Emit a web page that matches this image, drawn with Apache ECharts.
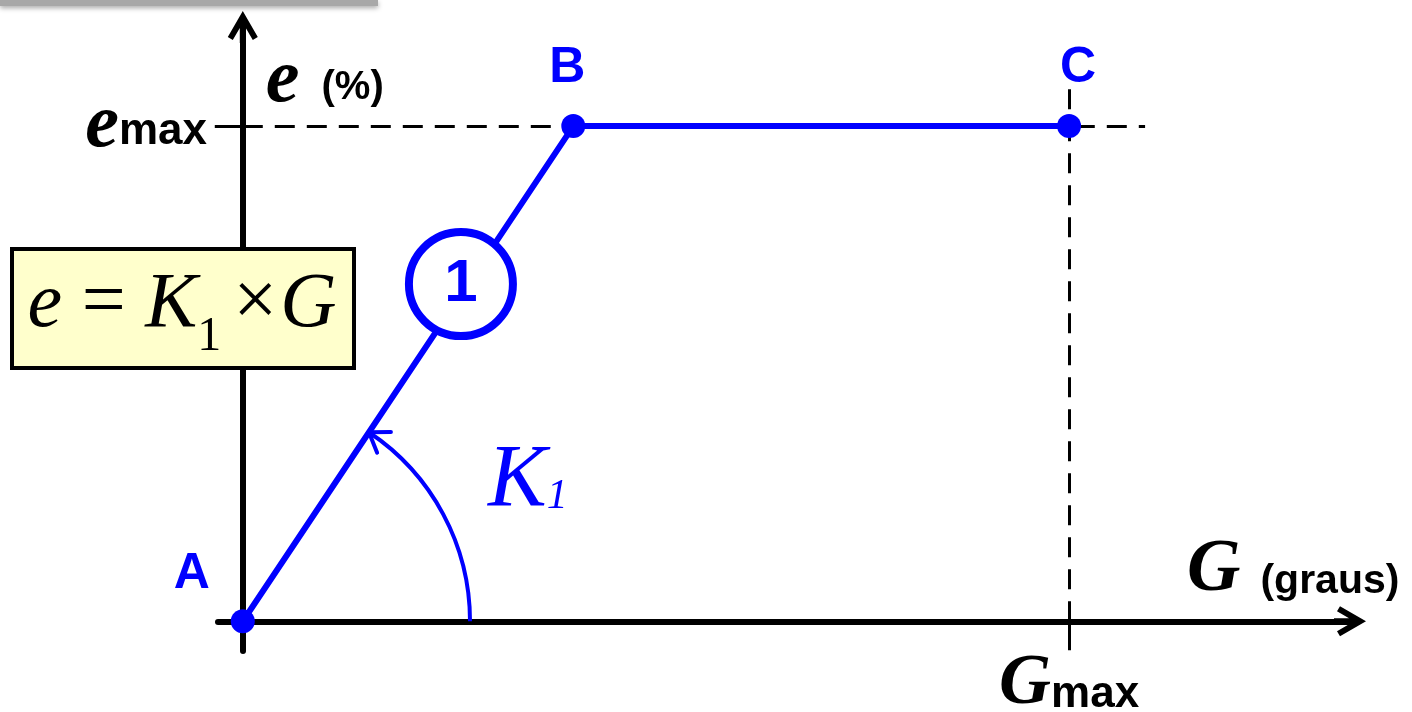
<!DOCTYPE html>
<html>
<head>
<meta charset="utf-8">
<script src="https://cdn.jsdelivr.net/npm/echarts@6/dist/echarts.min.js"></script>
<style>
html, body { margin: 0; padding: 0; background: #fff; }
#chart { width: 1412px; height: 712px; }
</style>
</head>
<body>
<div id="chart"></div>
<script>
const chart = echarts.init(document.getElementById("chart"));

const BLUE = "#0000ff";
const SERIF = "'Liberation Serif', 'Times New Roman', serif";
const SANS = "'Liberation Sans', Arial, sans-serif";
// open chevron with a stem, pointing up (rotated by the axis)
const ARROW = "path://M15 0 L30 26 L25 29 L18 17 L18 32 L12 32 L12 17 L5 29 L0 26 Z";

// the three points of the curve
const pointNames = ["A", "B", "C"];
const gValues = [0, 4, 10];
const eValues = [0, 10, 10];

const G_MAX = 10;
const E_MAX = 10;
const badge = [2.64, 6.81];      // the "1" circle sitting on A-B
const dashEnd = [10.92, 10.75];  // where the dashed guides stop (G, e)
const arcRadius = 2.75;          // K1 angle arc, in G units

const labelOffset = { A: [-51, -47], B: [-6, -58], C: [9, -58] };

const points = pointNames.map((n, i) => ({
	name: n,
	value: [gValues[i], eValues[i]],
	label: { offset: labelOffset[n] }
}));

option = {
	animation: false,
	grid: {
		left: 218,
		top: 27,
		width: 1132,
		height: 624,
		outerBoundsMode: "none"
	},
	xAxis: {
		type: "value",
		min: -0.3,
		max: 13.4,
		splitLine: { show: false },
		axisLine: {
			onZero: true,
			symbol: ["none", ARROW],
			symbolSize: [30, 32],
			lineStyle: { color: "#000", width: 6 }
		},
		axisTick: {
			show: true,
			customValues: [G_MAX],
			length: 29,
			lineStyle: { color: "#000", width: 3 }
		},
		axisLabel: {
			customValues: [G_MAX],
			margin: -3,
			formatter: () => "{g|G}{m|max}",
			rich: {
				g: { fontFamily: SERIF, fontStyle: "italic", fontWeight: "bold", fontSize: 72, color: "#000" },
				m: { fontFamily: SANS, fontWeight: "bold", fontSize: 44, color: "#000", padding: [22, 0, 0, 0] }
			}
		},
		name: "{g|G}{u|(graus)}",
		nameLocation: "end",
		nameGap: -163,
		nameTextStyle: {
			align: "left",
			verticalAlign: "middle",
			padding: [0, 0, 100, 0],
			rich: {
				g: { fontFamily: SERIF, fontStyle: "italic", fontWeight: "bold", fontSize: 74, color: "#000" },
				u: { fontFamily: SANS, fontWeight: "bold", fontSize: 41, color: "#000", padding: [20, 0, 0, 20] }
			}
		}
	},
	yAxis: {
		type: "value",
		min: -0.6,
		max: 12,
		splitLine: { show: false },
		axisLine: {
			onZero: true,
			symbol: ["none", ARROW],
			symbolSize: [30, 32],
			lineStyle: { color: "#000", width: 6 }
		},
		axisTick: {
			show: true,
			customValues: [E_MAX],
			length: 28,
			lineStyle: { color: "#000", width: 3 }
		},
		axisLabel: {
			customValues: [E_MAX],
			margin: 11,
			formatter: () => "{e|e}{m|max}",
			rich: {
				e: { fontFamily: SERIF, fontStyle: "italic", fontWeight: "bold", fontSize: 76, color: "#000" },
				m: { fontFamily: SANS, fontWeight: "bold", fontSize: 44, color: "#000", padding: [12, 0, 0, 0] }
			}
		},
		name: "{e|e}{u|(%)}",
		nameLocation: "end",
		nameGap: -54,
		nameTextStyle: {
			align: "left",
			verticalAlign: "middle",
			padding: [0, 0, 0, 23],
			rich: {
				e: { fontFamily: SERIF, fontStyle: "italic", fontWeight: "bold", fontSize: 76, color: "#000" },
				u: { fontFamily: SANS, fontWeight: "bold", fontSize: 40, color: "#000", padding: [14, 0, 0, 22] }
			}
		}
	},
	series: [{
		name: "guias",
		type: "line",
		data: [],
		z: 1,
		markLine: {
			silent: true,
			z: 1,
			symbol: "none",
			label: { show: false },
			lineStyle: { color: "#000", width: 3, type: [20, 12] },
			data: [
				[{ coord: [0, E_MAX] }, { coord: [dashEnd[0], E_MAX] }],
				[{ coord: [G_MAX, 0] }, { coord: [G_MAX, dashEnd[1]] }]
			]
		}
	}, {
		name: "e",
		type: "line",
		data: points,
		z: 3,
		symbol: "circle",
		symbolSize: 24,
		lineStyle: { color: BLUE, width: 6 },
		itemStyle: { color: BLUE },
		emphasis: { disabled: true },
		label: {
			show: true,
			position: "inside",
			formatter: "{b}",
			fontFamily: SANS,
			fontWeight: "bold",
			fontSize: 50,
			color: BLUE
		}
	}, {
		name: "1",
		type: "scatter",
		data: [badge],
		z: 4,
		symbolSize: 104,
		itemStyle: { color: "#fff", opacity: 1, borderColor: BLUE, borderWidth: 8 },
		emphasis: { disabled: true },
		label: {
			show: true,
			position: "inside",
			formatter: "1",
			fontFamily: SANS,
			fontWeight: "bold",
			fontSize: 60,
			color: BLUE
		}
	}]
};

chart.setOption(option);

// angle arc K1 and the text boxes, placed from the axis scales
const o = chart.convertToPixel({ gridIndex: 0 }, [0, 0]);
const r = chart.convertToPixel({ gridIndex: 0 }, [arcRadius, 0])[0] - o[0];
const b = chart.convertToPixel({ gridIndex: 0 }, [gValues[1], eValues[1]]);
const ang = Math.atan2(o[1] - b[1], b[0] - o[0]);
const tip = [o[0] + r * Math.cos(ang), o[1] - r * Math.sin(ang)];
const back = [Math.sin(ang), Math.cos(ang)];
const arm = (a) => [
	tip[0] + 22 * (back[0] * Math.cos(a) - back[1] * Math.sin(a)),
	tip[1] + 22 * (back[0] * Math.sin(a) + back[1] * Math.cos(a))
];

chart.setOption({
	graphic: [{
		type: "rect",
		left: 0,
		top: 0,
		z: 100,
		shape: { width: 378, height: 6 },
		style: { fill: "#a8a8a8", shadowBlur: 5, shadowOffsetY: 2, shadowColor: "rgba(0,0,0,0.35)" }
	}, {
		type: "arc",
		z: 100,
		shape: { cx: o[0], cy: o[1], r: r, startAngle: -ang, endAngle: 0, clockwise: true },
		style: { stroke: BLUE, lineWidth: 4, fill: null }
	}, {
		type: "polyline",
		z: 100,
		shape: { points: [arm(0.6), tip, arm(-0.6)] },
		style: { stroke: BLUE, lineWidth: 4, fill: null, lineCap: "round", lineJoin: "round" }
	}, {
		type: "text",
		z: 100,
		x: 488,
		y: 438,
		style: {
			text: "{k|K}{s|1}",
			rich: {
				k: { fontFamily: SERIF, fontStyle: "italic", fontSize: 88, fill: BLUE, textStroke: BLUE, lineWidth: 1.5 },
				s: { fontFamily: SERIF, fontStyle: "italic", fontSize: 42, fill: BLUE, padding: [30, 0, 0, 0] }
			}
		}
	}, {
		type: "rect",
		z: 100,
		left: 10,
		top: 247,
		shape: { width: 342, height: 119 },
		style: { fill: "#ffffcc", stroke: "#000", lineWidth: 4 }
	}, {
		type: "text",
		z: 101,
		x: 182,
		y: 305,
		style: {
			text: "{i|e}{n| = }{i|K}{s|1}{x|×}{i|G}",
			align: "center",
			verticalAlign: "middle",
			rich: {
				i: { fontFamily: SERIF, fontStyle: "italic", fontSize: 78, fill: "#000" },
				n: { fontFamily: SERIF, fontSize: 78, fill: "#000" },
				x: { fontFamily: SERIF, fontSize: 78, fill: "#000", padding: [0, 3, 0, 12] },
				s: { fontFamily: SERIF, fontSize: 48, fill: "#000", padding: [64, 0, 0, 0] }
			}
		}
	}]
});

window.onresize = chart.resize;
</script>
</body>
</html>
